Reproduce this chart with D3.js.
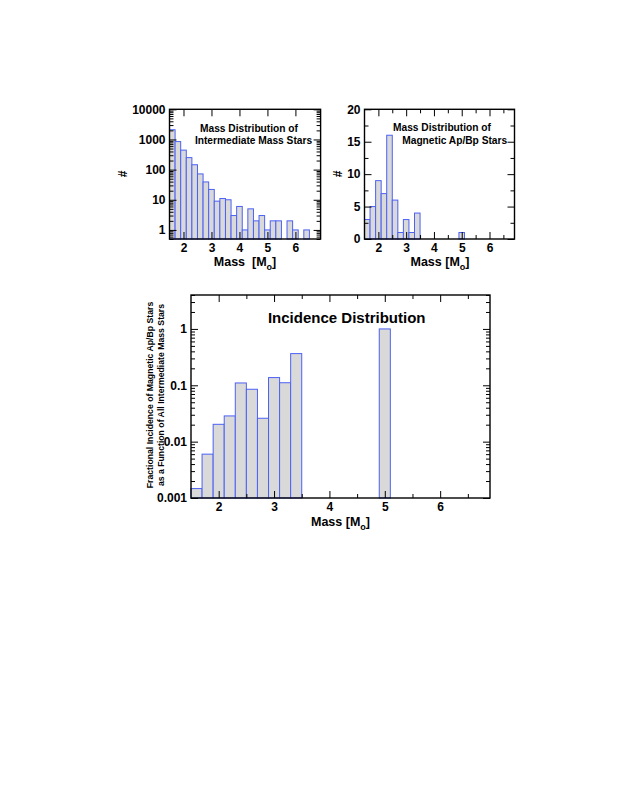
<!DOCTYPE html>
<html>
<head>
<meta charset="utf-8">
<script src="https://cdn.jsdelivr.net/npm/d3@7"></script>
<style>
  body { margin: 0; background: #fff; }
  svg { font-family: "Liberation Sans", Arial, sans-serif; font-weight: bold; }
</style>
</head>
<body>
<script>
// mass bins (lower edge, width 0.2 Msun)
var binLo = [1.5, 1.7, 1.9, 2.1, 2.3, 2.5, 2.7, 2.9, 3.1, 3.3, 3.5, 3.7, 3.9, 4.1,
             4.3, 4.5, 4.7, 4.9, 5.1, 5.3, 5.5, 5.7, 5.9, 6.1, 6.3, 6.5, 6.7];
var binWidth = 0.2;

// counts of all intermediate mass stars per bin
var allStars = [2100, 850, 443, 250, 145, 72, 39, 22, 9, 11, 10, 3, 6, 1,
                5, 2, 3, 1, 2, 2, 0, 2, 1, 0, 1, 0, 0];
// counts of magnetic Ap/Bp stars per bin
var apbpStars = [3, 5, 9, 7, 16, 6, 1, 3, 1, 4, 0, 0, 0, 0,
                 0, 0, 0, 1, 0, 0, 0, 0, 0, 0, 0, 0, 0];
// fractional incidence per bin
var incidence = [0.00147, 0.0060, 0.0203, 0.0286, 0.110, 0.085, 0.026, 0.137, 0.111, 0.365, 0, 0, 0, 0,
                 0, 0, 0, 1.0, 0, 0, 0, 0, 0, 0, 0, 0, 0];

var massTicks = [2, 3, 4, 5, 6];
var massMinor = [2.5, 3.5, 4.5, 5.5, 6.5];
var countLogTicks = [1, 10, 100, 1000, 10000];
var countTicks = [0, 5, 10, 15, 20];
var countMinor = [2.5, 7.5, 12.5, 17.5];
var incTicks = [0.001, 0.01, 0.1, 1];
var incLabels = ["0.001", "0.01", "0.1", "1"];

var svg = d3.select("body").append("svg")
    .attr("width", 623)
    .attr("height", 806);

var barFill = "#d9d9d9", barStroke = "#4d61f4";

function drawBars(x, y, values) {
  var base = y.range()[0];
  var bins = binLo.map(function(d, i) { return {lo: d, v: values[i]}; })
    .filter(function(d) { return d.v > 0; });
  svg.append("g").selectAll("rect")
    .data(bins)
    .enter().append("rect")
      .attr("x", function(d) { return x(d.lo); })
      .attr("width", function(d) { return x(d.lo + binWidth) - x(d.lo); })
      .attr("y", function(d) { return y(d.v); })
      .attr("height", function(d) { return base - y(d.v); })
      .attr("fill", barFill)
      .attr("stroke", barStroke)
      .attr("stroke-width", 1);
}

function styleAxis(g, size) {
  g.select(".domain").remove();
  g.selectAll("line").attr("stroke", "#000").attr("stroke-width", 1);
  g.attr("font-family", null).attr("font-size", size || 12);
  g.selectAll("text").attr("fill", "#000");
}

function drawFrame(x, y, o) {
  var x0 = x.range()[0], x1 = x.range()[1], y0 = y.range()[1], y1 = y.range()[0];
  var maj = 7, mnr = 4;

  // x axes
  svg.append("g").attr("transform", "translate(0," + y1 + ")")
    .call(d3.axisBottom(x).tickValues(massTicks).tickSize(-maj).tickPadding(4).tickFormat(d3.format("d")))
    .call(styleAxis);
  svg.append("g").attr("transform", "translate(0," + y0 + ")")
    .call(d3.axisTop(x).tickValues(massTicks).tickSize(-maj).tickFormat(""))
    .call(styleAxis);
  if (o.xMinor) {
    svg.append("g").attr("transform", "translate(0," + y1 + ")")
      .call(d3.axisBottom(x).tickValues(o.xMinor).tickSize(-mnr).tickFormat(""))
      .call(styleAxis);
    svg.append("g").attr("transform", "translate(0," + y0 + ")")
      .call(d3.axisTop(x).tickValues(o.xMinor).tickSize(-mnr).tickFormat(""))
      .call(styleAxis);
  }

  // y axes
  svg.append("g").attr("transform", "translate(" + x0 + ",0)")
    .call(d3.axisLeft(y).tickValues(o.yMajor).tickSize(-maj).tickPadding(4).tickFormat(o.yFormat))
    .call(styleAxis);
  svg.append("g").attr("transform", "translate(" + x1 + ",0)")
    .call(d3.axisRight(y).tickValues(o.yMajor).tickSize(-maj).tickFormat(""))
    .call(styleAxis);
  svg.append("g").attr("transform", "translate(" + x0 + ",0)")
    .call(d3.axisLeft(y).tickValues(o.yMinor).tickSize(-mnr).tickFormat(""))
    .call(styleAxis);
  svg.append("g").attr("transform", "translate(" + x1 + ",0)")
    .call(d3.axisRight(y).tickValues(o.yMinor).tickSize(-mnr).tickFormat(""))
    .call(styleAxis);

  svg.append("rect")
    .attr("x", x0).attr("y", y0)
    .attr("width", x1 - x0).attr("height", y1 - y0)
    .attr("fill", "none")
    .attr("stroke", "#000")
    .attr("stroke-width", 1.4);
}

function massLabel(cx, by, spaces) {
  var t = svg.append("text")
    .attr("x", cx).attr("y", by)
    .attr("text-anchor", "middle")
    .attr("font-size", 12.5);
  t.append("tspan").text("Mass" + spaces + "[M");
  t.append("tspan").attr("dy", 4).attr("font-size", 9).text("o");
  t.append("tspan").attr("dy", -4).text("]");
}

function minorLog(y) {
  return y.ticks().filter(function(d) {
    var l = Math.log10(d);
    return Math.abs(l - Math.round(l)) > 1e-6;
  });
}

// ---- panel 1: all intermediate mass stars
var x1 = d3.scaleLinear().domain([1.5, 6.9]).range([169.5, 320.6]);
var y1 = d3.scaleLog().domain([0.5, 10000]).range([239, 109.3]);
drawBars(x1, y1, allStars);
drawFrame(x1, y1, {yMajor: countLogTicks, yMinor: minorLog(y1), yFormat: d3.format("d")});
massLabel(245, 266, "\u00a0\u00a0");
svg.append("text").attr("transform", "translate(127,174) rotate(-90)")
  .attr("text-anchor", "middle").attr("font-size", 12).text("#");
svg.append("text").attr("x", 249).attr("y", 131.5).attr("text-anchor", "middle")
  .attr("font-size", 10.2).text("Mass Distribution of");
svg.append("text").attr("x", 253.5).attr("y", 143.8).attr("text-anchor", "middle")
  .attr("font-size", 10.2).text("Intermediate Mass Stars");

// ---- panel 2: magnetic Ap/Bp stars
var x2 = d3.scaleLinear().domain([1.5, 6.9]).range([364.5, 514.5]);
var y2 = d3.scaleLinear().domain([0, 20]).range([239, 109.3]);
drawBars(x2, y2, apbpStars);
drawFrame(x2, y2, {yMajor: countTicks, yMinor: countMinor, yFormat: d3.format("d"), xMinor: massMinor});
massLabel(440, 266, " ");
svg.append("text").attr("transform", "translate(342,174) rotate(-90)")
  .attr("text-anchor", "middle").attr("font-size", 12).text("#");
svg.append("text").attr("x", 442).attr("y", 131).attr("text-anchor", "middle")
  .attr("font-size", 10.2).text("Mass Distribution of");
svg.append("text").attr("x", 454.7).attr("y", 144.3).attr("text-anchor", "middle")
  .attr("font-size", 10.2).text("Magnetic Ap/Bp Stars");

// ---- panel 3: incidence
var x3 = d3.scaleLinear().domain([1.5, 6.9]).range([191, 490]);
var y3 = d3.scaleLog().domain([0.001, 4]).range([498, 295]);
drawBars(x3, y3, incidence);
drawFrame(x3, y3, {yMajor: incTicks, yMinor: minorLog(y3),
  yFormat: function(d, i) { return incLabels[i]; }, xMinor: massMinor});
massLabel(340.5, 525.5, " ");
svg.append("text").attr("x", 346.7).attr("y", 323).attr("text-anchor", "middle")
  .attr("font-size", 15).text("Incidence Distribution");
svg.append("text").attr("transform", "translate(152.5,395) rotate(-90)")
  .attr("text-anchor", "middle").attr("font-size", 8.7)
  .text("Fractional Incidence of Magnetic Ap/Bp Stars");
svg.append("text").attr("transform", "translate(163.8,395) rotate(-90)")
  .attr("text-anchor", "middle").attr("font-size", 8.7)
  .text("as a Function of All Intermediate Mass Stars");
</script>
</body>
</html>
